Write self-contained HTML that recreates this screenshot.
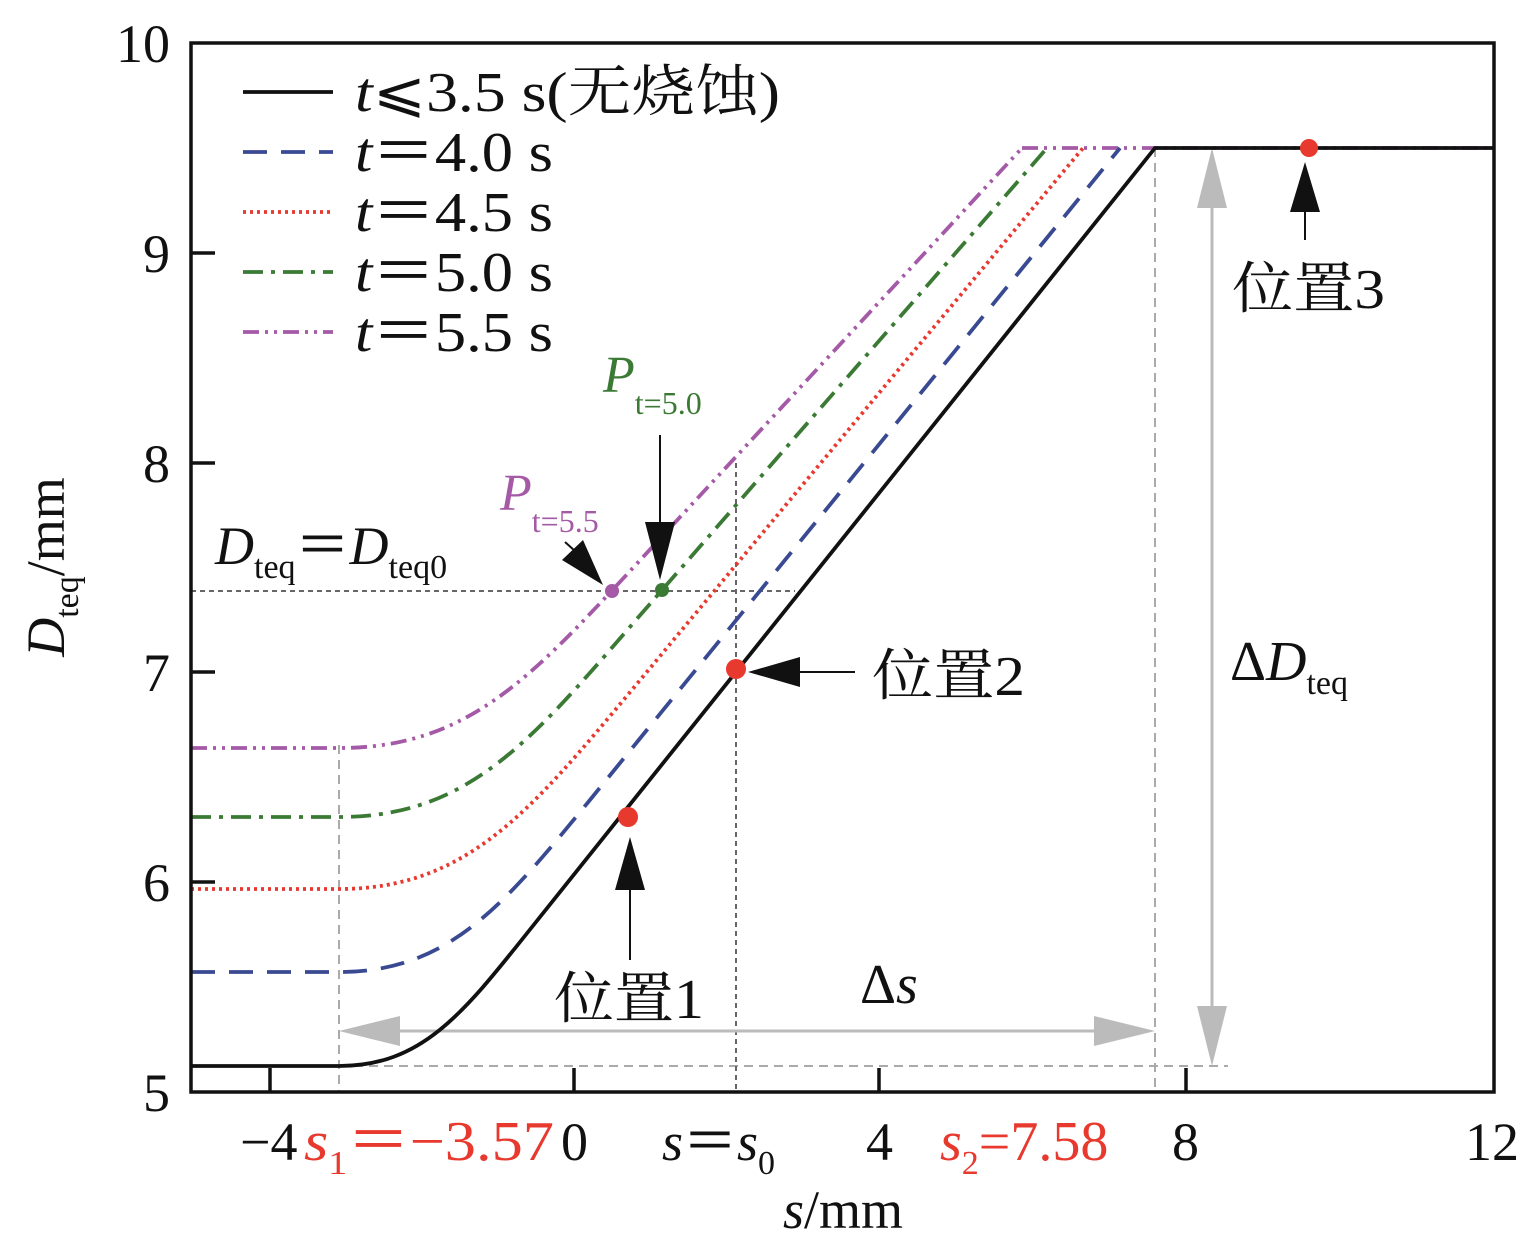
<!DOCTYPE html>
<html><head><meta charset="utf-8"><style>
body{margin:0;background:#fff}
svg{display:block}
text{font-family:"Liberation Serif","Noto Serif CJK SC","Noto Sans CJK SC",serif;fill:#111}
</style></head><body>
<svg width="1538" height="1253" viewBox="0 0 1538 1253" xmlns="http://www.w3.org/2000/svg">
<!-- guide lines -->
<g stroke="#aaa" stroke-width="2" stroke-dasharray="9 6" fill="none">
<line x1="339" y1="745" x2="339" y2="1092"/>
<line x1="1155" y1="148" x2="1155" y2="1092"/>
<line x1="339" y1="1066" x2="1228" y2="1066"/>
</g>
<g stroke="#666" stroke-width="2" stroke-dasharray="5 4" fill="none">
<line x1="191" y1="591" x2="795" y2="591"/>
<line x1="736" y1="463" x2="736" y2="1092"/>
</g>
<!-- gray arrows -->
<g stroke="#bbb" stroke-width="3" fill="#bbb">
<line x1="380" y1="1031" x2="1115" y2="1031"/>
<polygon points="339,1031 400,1016 400,1046" stroke="none"/>
<polygon points="1155,1031 1094,1016 1094,1046" stroke="none"/>
<line x1="1212" y1="190" x2="1212" y2="1025"/>
<polygon points="1212,148 1197,208 1227,208" stroke="none"/>
<polygon points="1212,1066 1197,1006 1227,1006" stroke="none"/>
</g>
<!-- curves -->
<g fill="none" stroke-width="3.8">
<path d="M1022,148 H1494" stroke="#a45aa6" stroke-dasharray="16 6 3 6 3 6"/>
<path d="M191,748 H339 C466,748 530,679 631,570 L1022,148" stroke="#a45aa6" stroke-dasharray="16 6 3 6 3 6"/>
<path d="M191,817 H339 C465,817 528,745 629,628 L1047,148" stroke="#3b7a34" stroke-dasharray="20 8 4 8"/>
<path d="M191,889 H339 C466,889 530,812 631,691 L1083,148" stroke="#e8392f" stroke-dasharray="3 4"/>
<path d="M191,972 H339 C450,972 505,904 594,795 L1120,148" stroke="#3a4a92" stroke-dasharray="24 14"/>
<path d="M191,1066 H339 C421,1066 462,1015 528,932 L1155,148 H1494" stroke="#111"/>
</g>
<!-- markers -->
<circle cx="628" cy="817" r="10" fill="#e8392f"/>
<circle cx="736" cy="669" r="10" fill="#e8392f"/>
<circle cx="1309" cy="148" r="9" fill="#e8392f"/>
<circle cx="612" cy="591" r="7" fill="#a45aa6"/>
<circle cx="662" cy="590" r="7" fill="#3b7a34"/>
<!-- black arrows -->
<g stroke="#111" stroke-width="2" fill="#111">
<line x1="630" y1="960" x2="630" y2="880"/>
<polygon points="630,837 615,890 645,890" stroke="none"/>
<line x1="855" y1="672" x2="790" y2="672"/>
<polygon points="748,672 800,657 800,687" stroke="none"/>
<line x1="1305" y1="240" x2="1305" y2="200"/>
<polygon points="1305,162 1290,212 1320,212" stroke="none"/>
<line x1="660" y1="435" x2="660" y2="530"/>
<polygon points="660,580 645,522 675,522" stroke="none"/>
<line x1="565" y1="542" x2="585" y2="560"/>
<polygon points="603,585 562,560 583,540" stroke="none"/>
</g>
<!-- frame -->
<rect x="191" y="43" width="1303" height="1049" fill="none" stroke="#111" stroke-width="3.5"/>
<g stroke="#111" stroke-width="3.5">
<line x1="270" y1="1092" x2="270" y2="1068"/>
<line x1="574" y1="1092" x2="574" y2="1068"/>
<line x1="879" y1="1092" x2="879" y2="1068"/>
<line x1="1186" y1="1092" x2="1186" y2="1068"/>
<line x1="191" y1="253" x2="215" y2="253"/>
<line x1="191" y1="463" x2="215" y2="463"/>
<line x1="191" y1="672" x2="215" y2="672"/>
<line x1="191" y1="882" x2="215" y2="882"/>
</g>
<!-- tick labels -->
<g font-size="54" text-anchor="end">
<text x="170" y="62">10</text>
<text x="170" y="272">9</text>
<text x="170" y="482">8</text>
<text x="170" y="691">7</text>
<text x="170" y="901">6</text>
<text x="170" y="1111">5</text>
</g>
<g font-size="54">
<text x="240" y="1160">−4</text>
<text x="561" y="1160">0</text>
<text x="866" y="1160">4</text>
<text x="1172" y="1160">8</text>
<text x="1465" y="1160">12</text>
</g>
<text x="304" y="1160" font-size="56" textLength="250" lengthAdjust="spacingAndGlyphs" style="fill:#e8392f"><tspan font-style="italic">s</tspan><tspan font-size="34" dy="14">1</tspan><tspan dy="-14" font-family="Noto Sans CJK SC" style="fill:#e8392f">＝</tspan><tspan>−3.57</tspan></text>
<text x="662" y="1160" font-size="54"><tspan font-style="italic">s</tspan><tspan font-family="Noto Sans CJK SC">＝</tspan><tspan font-style="italic">s</tspan><tspan font-size="34" dy="14">0</tspan></text>
<text x="940" y="1160" font-size="56" style="fill:#e8392f"><tspan font-style="italic">s</tspan><tspan font-size="34" dy="14">2</tspan><tspan dy="-14">=7.58</tspan></text>
<text x="843" y="1228" font-size="54" text-anchor="middle"><tspan font-style="italic">s</tspan>/mm</text>
<text transform="translate(64,567) rotate(-90)" font-size="54" text-anchor="middle"><tspan font-style="italic">D</tspan><tspan font-size="34" dy="14">teq</tspan><tspan dy="-14">/mm</tspan></text>
<!-- legend -->
<g stroke-width="3.8">
<line x1="243" y1="92" x2="333" y2="92" stroke="#111"/>
<line x1="243" y1="152" x2="333" y2="152" stroke="#3a4a92" stroke-dasharray="24 14"/>
<line x1="243" y1="212" x2="333" y2="212" stroke="#e8392f" stroke-dasharray="3 4"/>
<line x1="243" y1="272" x2="333" y2="272" stroke="#3b7a34" stroke-dasharray="20 8 4 8"/>
<line x1="243" y1="332" x2="333" y2="332" stroke="#a45aa6" stroke-dasharray="16 6 3 6 3 6"/>
</g>
<g font-size="56">
<text x="355" y="111" textLength="425" lengthAdjust="spacingAndGlyphs"><tspan font-style="italic">t</tspan><tspan font-family="Noto Sans CJK SC">⩽</tspan>3.5 s(无烧蚀)</text>
<text x="355" y="171" textLength="198" lengthAdjust="spacingAndGlyphs"><tspan font-style="italic">t</tspan><tspan font-family="Noto Sans CJK SC">＝</tspan>4.0 s</text>
<text x="355" y="231" textLength="198" lengthAdjust="spacingAndGlyphs"><tspan font-style="italic">t</tspan><tspan font-family="Noto Sans CJK SC">＝</tspan>4.5 s</text>
<text x="355" y="291" textLength="198" lengthAdjust="spacingAndGlyphs"><tspan font-style="italic">t</tspan><tspan font-family="Noto Sans CJK SC">＝</tspan>5.0 s</text>
<text x="355" y="351" textLength="198" lengthAdjust="spacingAndGlyphs"><tspan font-style="italic">t</tspan><tspan font-family="Noto Sans CJK SC">＝</tspan>5.5 s</text>
</g>
<!-- annotations -->
<g font-size="56">
<text x="1232" y="308" textLength="153" lengthAdjust="spacingAndGlyphs">位置3</text>
<text x="872" y="695" textLength="153" lengthAdjust="spacingAndGlyphs">位置2</text>
<text x="554" y="1018" textLength="150" lengthAdjust="spacingAndGlyphs">位置1</text>
<text x="860" y="1003">Δ<tspan font-style="italic">s</tspan></text>
<text x="1230" y="680">Δ<tspan font-style="italic">D</tspan><tspan font-size="34" dy="14">teq</tspan></text>
<text x="215" y="564" font-size="54"><tspan font-style="italic">D</tspan><tspan font-size="34" dy="14">teq</tspan><tspan dy="-14" font-family="Noto Sans CJK SC">＝</tspan><tspan font-style="italic">D</tspan><tspan font-size="34" dy="14">teq0</tspan></text>
<text x="500" y="510" font-size="52" style="fill:#a45aa6"><tspan font-style="italic">P</tspan><tspan font-size="32" dy="22">t=5.5</tspan></text>
<text x="603" y="392" font-size="52" style="fill:#3b7a34"><tspan font-style="italic">P</tspan><tspan font-size="32" dy="22">t=5.0</tspan></text>
</g>
</svg>
</body></html>
